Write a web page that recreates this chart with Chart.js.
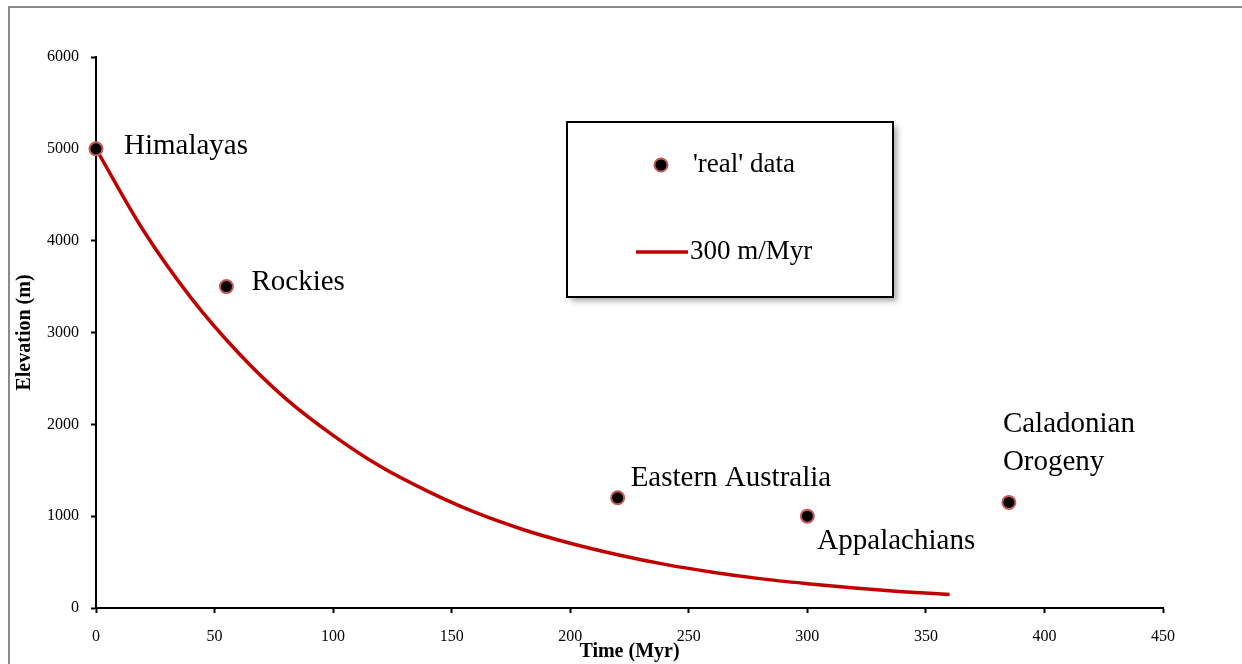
<!DOCTYPE html>
<html>
<head>
<meta charset="utf-8">
<script src="https://cdn.jsdelivr.net/npm/chart.js@4.4.0/dist/chart.umd.min.js"></script>
<style>
  html, body { margin: 0; padding: 0; background: #fff; }
  #wrap { width: 1242px; height: 664px; }
</style>
</head>
<body>
<div id="wrap"><canvas id="mainChart" width="1242" height="664"></canvas></div>
<script>
// mountain belts: age (Myr) and present elevation (m)
const sites = ['Himalayas', 'Rockies', 'Eastern Australia', 'Appalachians', 'Caladonian\nOrogeny'];
const siteAges = [0, 55, 220, 300, 385];
const siteElevations = [5000, 3500, 1200, 1000, 1150];

// erosion curve
const modelTimes = [0, 20, 40, 60, 80, 100, 120, 140, 160, 180, 200, 220, 240, 260, 280, 300, 320, 340, 360];
const modelElevations = [5000, 4110, 3380, 2780, 2280, 1880, 1540, 1270, 1040, 855, 705, 580, 475, 390, 320, 265, 217, 178, 147];

const legendLabels = ["'real' data", '300 m/Myr'];

// where each site name sits relative to its point (px)
const labelOffsets = [[28, -2], [25, -4], [13, -19], [10, 25], [-6, -78]];

const serif = '"Liberation Serif", "Times New Roman", serif';
const red = '#c00000';
const ring = '#c65a57';

const pointsData = siteAges.map((a, i) => ({ x: a, y: siteElevations[i] }));
const curveData = modelTimes.map((t, i) => ({ x: t, y: modelElevations[i] }));

const framePlugin = {
    id: 'frame',
    beforeDraw(chart) {
        const c = chart.ctx;
        c.save();
        c.fillStyle = '#fff';
        c.fillRect(0, 0, chart.width, chart.height);
        c.strokeStyle = '#8a8a8a';
        c.lineWidth = 2;
        c.strokeRect(9, 7, 1300, 700);
        c.restore();
    },
};

const labelPlugin = {
    id: 'siteLabels',
    afterDatasetsDraw(chart) {
        const c = chart.ctx;
        const xs = chart.scales.x;
        const ys = chart.scales.y;
        c.save();
        c.fillStyle = '#000';
        c.font = '29px ' + serif;
        c.textAlign = 'left';
        c.textBaseline = 'middle';
        sites.forEach((name, i) => {
            const px = xs.getPixelForValue(siteAges[i]) + labelOffsets[i][0];
            const py = ys.getPixelForValue(siteElevations[i]) + labelOffsets[i][1];
            name.split('\n').forEach((line, j) => {
                c.fillText(line, px, py + j * 38);
            });
        });
        c.restore();
    },
};

const legendPlugin = {
    id: 'boxLegend',
    afterDraw(chart) {
        const c = chart.ctx;
        c.save();
        // box with soft shadow
        c.shadowColor = 'rgba(0,0,0,0.35)';
        c.shadowBlur = 6;
        c.shadowOffsetX = 4;
        c.shadowOffsetY = 4;
        c.fillStyle = '#fff';
        c.fillRect(567, 122, 326, 175);
        c.shadowColor = 'transparent';
        c.strokeStyle = '#000';
        c.lineWidth = 2;
        c.strokeRect(567, 122, 326, 175);

        // marker
        c.beginPath();
        c.arc(661, 165, 6.5, 0, Math.PI * 2);
        c.fillStyle = '#000';
        c.fill();
        c.strokeStyle = ring;
        c.lineWidth = 2;
        c.stroke();

        // line
        c.beginPath();
        c.moveTo(636, 252);
        c.lineTo(688, 252);
        c.strokeStyle = red;
        c.lineWidth = 3.5;
        c.stroke();

        c.fillStyle = '#000';
        c.font = '27px ' + serif;
        c.textBaseline = 'middle';
        c.fillText(legendLabels[0], 693, 165);
        c.fillText(legendLabels[1], 690, 252);
        c.restore();
    },
};

const ctx = document.getElementById('mainChart').getContext('2d');
const config = {
    type: 'scatter',
    data: {
        datasets: [
            {
                label: legendLabels[0],
                data: pointsData,
                order: 0,
                clip: false,
                pointRadius: 6.5,
                pointHoverRadius: 6.5,
                pointBackgroundColor: '#000',
                pointBorderColor: ring,
                pointBorderWidth: 2,
            },
            {
                label: legendLabels[1],
                data: curveData,
                order: 1,
                showLine: true,
                pointRadius: 0,
                borderColor: red,
                borderWidth: 3.5,
                tension: 0.4,
                cubicInterpolationMode: 'monotone',
            },
        ],
    },
    options: {
        responsive: false,
        animation: false,
        events: [],
        layout: {
            padding: { left: 0, right: 79, top: 57, bottom: 0 },
        },
        plugins: {
            legend: { display: false },
            tooltip: { enabled: false },
        },
        scales: {
            x: {
                type: 'linear',
                min: 0,
                max: 450,
                afterFit: (scale) => { scale.height = 56; },
                ticks: {
                    stepSize: 50,
                    color: '#000',
                    padding: 14,
                    callback: (v) => String(v),
                    font: { family: serif, size: 16 },
                },
                grid: {
                    drawOnChartArea: false,
                    drawTicks: true,
                    tickLength: 5,
                    tickWidth: 2,
                    tickColor: '#000',
                },
                border: { color: '#000', width: 2 },
                title: {
                    display: true,
                    text: 'Time (Myr)',
                    color: '#000',
                    padding: { top: 0, bottom: 0 },
                    font: { family: serif, size: 20, weight: 'bold' },
                },
            },
            y: {
                type: 'linear',
                min: 0,
                max: 6000,
                afterFit: (scale) => { scale.width = 96; },
                ticks: {
                    stepSize: 1000,
                    color: '#000',
                    padding: 12,
                    callback: (v) => String(v),
                    font: { family: serif, size: 16 },
                },
                grid: {
                    drawOnChartArea: false,
                    drawTicks: true,
                    tickLength: 5,
                    tickWidth: 2,
                    tickColor: '#000',
                },
                border: { color: '#000', width: 2 },
                title: {
                    display: true,
                    text: 'Elevation (m)',
                    color: '#000',
                    padding: { top: 13, bottom: 0 },
                    font: { family: serif, size: 20, weight: 'bold' },
                },
            },
        },
    },
    plugins: [framePlugin, labelPlugin, legendPlugin],
};

const chart = new Chart(ctx, config);
</script>
</body>
</html>
